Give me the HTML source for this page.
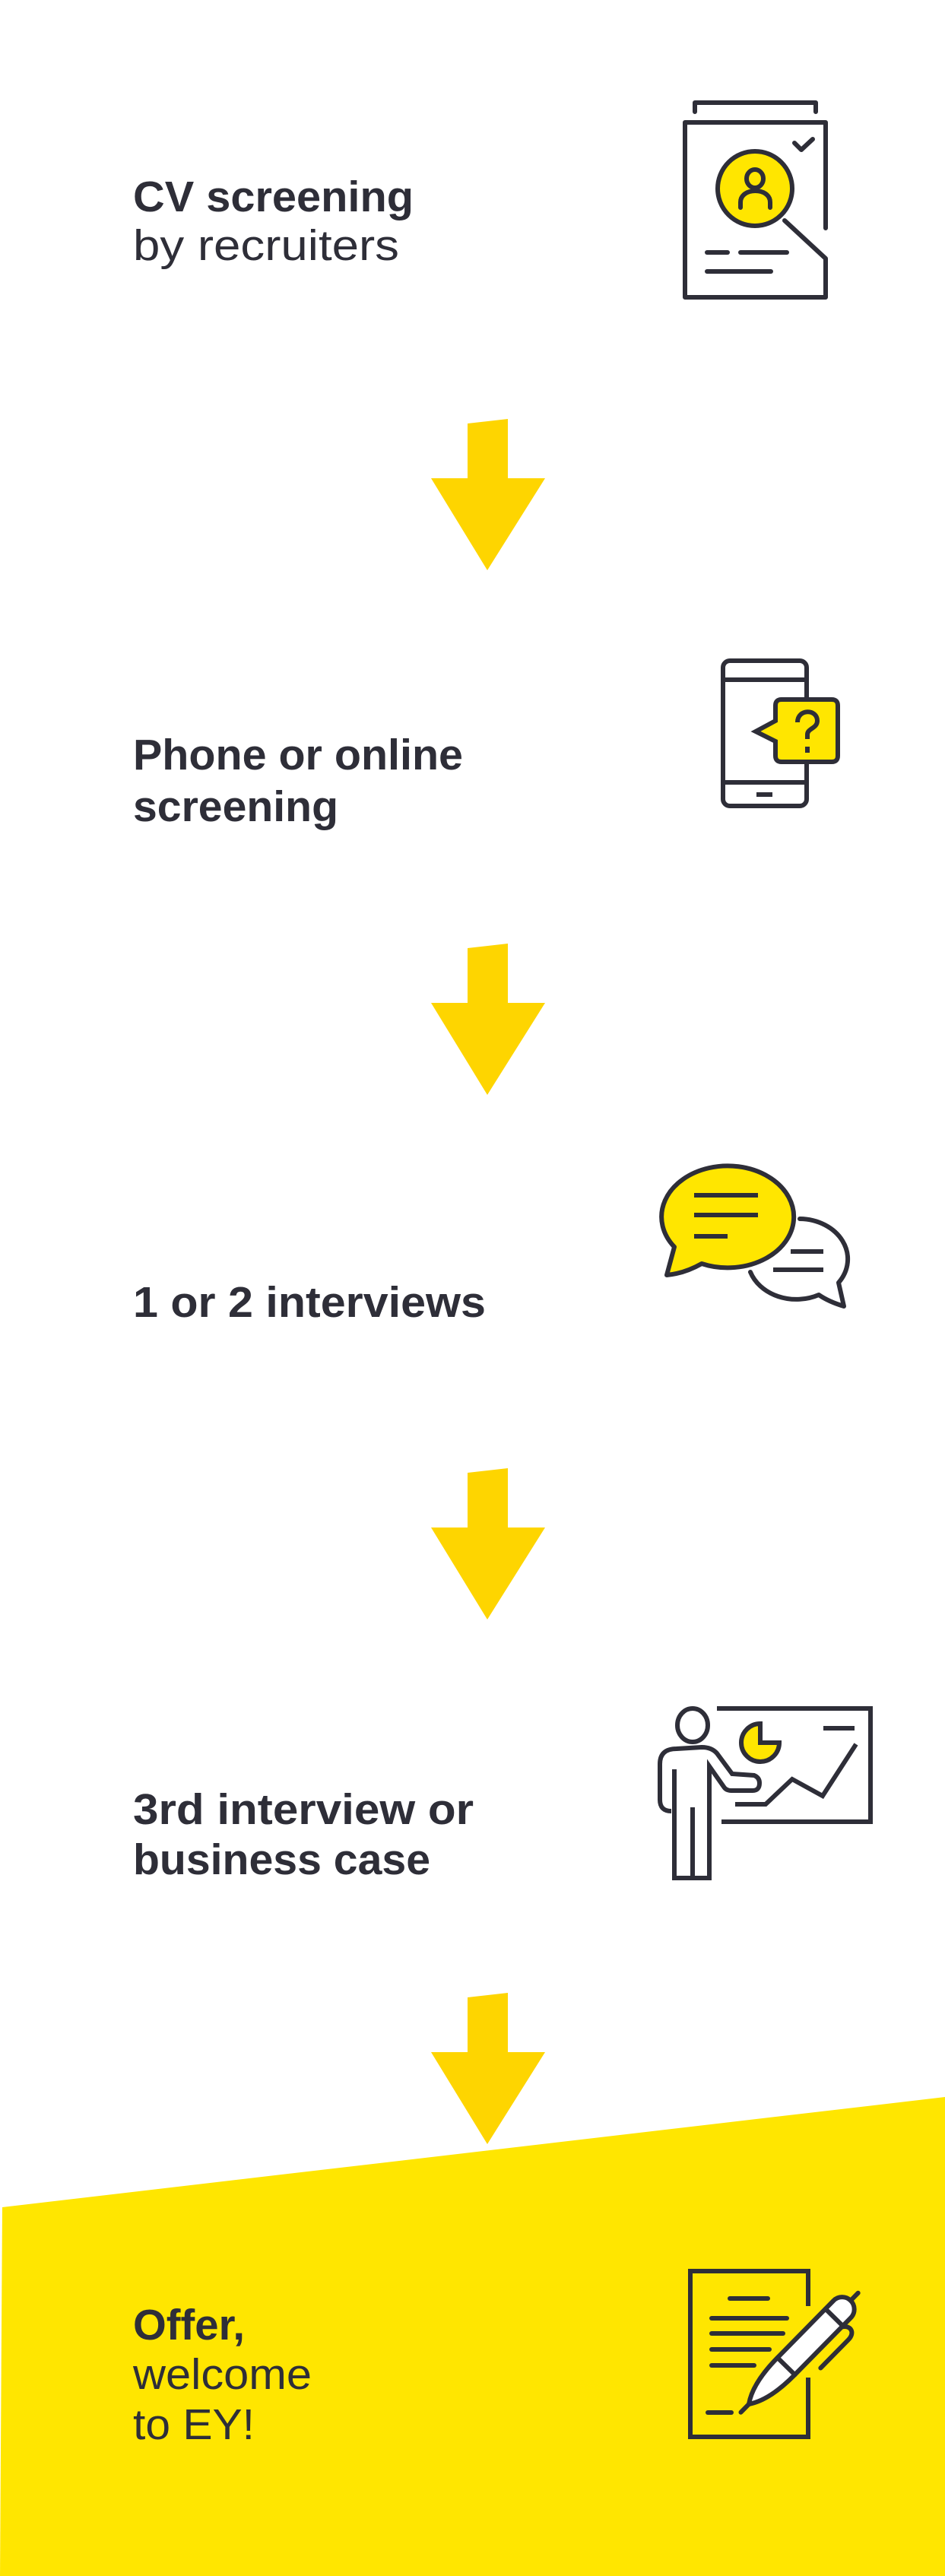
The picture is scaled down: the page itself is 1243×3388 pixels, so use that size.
<!DOCTYPE html>
<html><head><meta charset="utf-8"><style>
html,body{margin:0;padding:0;background:#fff;}
svg{display:block;}
text{font-family:"Liberation Sans",sans-serif;fill:#2e2e38;font-size:57px;}
.b{font-weight:bold;}
</style></head><body>
<svg width="1243" height="3388" viewBox="0 0 1243 3388" xmlns="http://www.w3.org/2000/svg">
<rect width="1243" height="3388" fill="#fff"/>
<polygon points="3,2903 1243,2758 1243,3388 0,3388" fill="#ffe600"/>

<g fill="#fed500">
<polygon points="615,557 668,551 668,629 717,629 641,750 567,629 615,629"/>
<polygon points="615,1247 668,1241 668,1319 717,1319 641,1440 567,1319 615,1319"/>
<polygon points="615,1937 668,1931 668,2009 717,2009 641,2130 567,2009 615,2009"/>
<polygon points="615,2627 668,2621 668,2699 717,2699 641,2820 567,2699 615,2699"/>
</g>

<text class="b" x="175" y="278" textLength="369" lengthAdjust="spacingAndGlyphs">CV screening</text>
<text x="175" y="342" textLength="350" lengthAdjust="spacingAndGlyphs">by recruiters</text>
<text class="b" x="175" y="1012" textLength="434" lengthAdjust="spacingAndGlyphs">Phone or online</text>
<text class="b" x="175" y="1080" textLength="270" lengthAdjust="spacingAndGlyphs">screening</text>
<text class="b" x="175" y="1732" textLength="464" lengthAdjust="spacingAndGlyphs">1 or 2 interviews</text>
<text class="b" x="175" y="2399" textLength="448" lengthAdjust="spacingAndGlyphs">3rd interview or</text>
<text class="b" x="175" y="2465" textLength="391" lengthAdjust="spacingAndGlyphs">business case</text>
<text class="b" x="175" y="3077" textLength="147" lengthAdjust="spacingAndGlyphs">Offer,</text>
<text x="175" y="3142" textLength="235" lengthAdjust="spacingAndGlyphs">welcome</text>
<text x="175" y="3208" textLength="160" lengthAdjust="spacingAndGlyphs">to EY!</text>

<g fill="none" stroke="#2e2e38" stroke-width="6" stroke-linecap="round" stroke-linejoin="round">
<!-- CV icon -->
<polyline points="914,147 914,135 1073,135 1073,147"/>
<polyline points="1086,300 1086,161 901,161 901,391 1086,391 1086,340 1032,290"/>
<circle cx="993" cy="248" r="49" fill="#ffe600"/>
<ellipse cx="993" cy="235" rx="11" ry="12"/>
<path d="M974,273 L974,266 C974,246 1013,246 1013,266 L1013,273"/>
<polyline points="1045,188 1054,197 1069,183"/>
<line x1="930" y1="332" x2="957" y2="332"/><line x1="974" y1="332" x2="1035" y2="332"/>
<line x1="930" y1="357" x2="1014" y2="357"/>

<!-- Phone icon -->
<rect x="951" y="869" width="110" height="191" rx="9" fill="#fff"/>
<line x1="951" y1="894" x2="1061" y2="894"/><line x1="951" y1="1029" x2="1061" y2="1029"/>
<line x1="995" y1="1045" x2="1016" y2="1045" stroke-linecap="butt"/>
<path d="M1028,920 L1094,920 Q1102,920 1102,928 L1102,994 Q1102,1002 1094,1002 L1028,1002 Q1020,1002 1020,994 L1020,975 L994,962 L1020,948 L1020,928 Q1020,920 1028,920 Z" fill="#ffe600" stroke-linejoin="miter"/>
<path d="M1049,950 C1049,932 1075,932 1075,948 C1075,958 1062,958 1062,966 L1062,972" stroke-linecap="butt"/>
<line x1="1062" y1="982" x2="1062" y2="990" stroke-linecap="butt"/>

<!-- Interviews icon -->
<path d="M1052,1603 A64,53 0 0 1 1103,1687 L1110,1718 Q1090,1712 1077,1703 A64,53 0 0 1 987,1673" fill="#fff"/>
<path d="M887,1640 A87,67 0 1 1 923,1662 Q900,1675 877,1677 Z" fill="#ffe600"/>
<g stroke-linecap="butt">
<line x1="913" y1="1572" x2="997" y2="1572"/><line x1="913" y1="1598" x2="997" y2="1598"/><line x1="913" y1="1626" x2="957" y2="1626"/>
<line x1="1040" y1="1646" x2="1083" y2="1646"/><line x1="1017" y1="1670" x2="1083" y2="1670"/>
</g>

<!-- Presenter icon -->
<g stroke-linecap="butt" stroke-linejoin="miter">
<polyline points="943,2247 1145,2247 1145,2396 949,2396"/>
<line x1="1083" y1="2273" x2="1124" y2="2273"/>
<polyline points="967,2373 1007,2373 1042,2340 1082,2362 1126,2294"/>
<path d="M1000,2292 L1000,2267 A25,25 0 1 0 1025,2292 Z" fill="#ffe600"/>
<ellipse cx="911" cy="2269" rx="20" ry="22"/>
<path d="M883,2382 Q868,2382 868,2367 L868,2320 Q868,2300 890,2300 L923,2298 Q936,2298 943,2306 L963,2333 L992,2335 Q999,2338 999,2345 Q999,2355 990,2355 L962,2355 Q955,2355 952,2350 L933,2323 L933,2470 L887,2470 L887,2327"/>
<line x1="911" y1="2377" x2="911" y2="2470"/>
</g>

<!-- Offer icon -->
<polyline points="1063,3033 1063,2987 908,2987 908,3205 1063,3205 1063,3127" stroke-linecap="butt" stroke-linejoin="miter"/>
<line x1="960" y1="3023" x2="1010" y2="3023"/>
<line x1="936" y1="3049" x2="1035" y2="3049"/>
<line x1="936" y1="3069" x2="1030" y2="3069"/>
<line x1="936" y1="3090" x2="1012" y2="3090"/>
<line x1="936" y1="3111" x2="992" y2="3111"/>
<line x1="931" y1="3173" x2="962" y2="3173"/>
<g transform="translate(985,3162) rotate(-45.5)">
<line x1="-15" y1="0" x2="0" y2="0"/>
<line x1="190" y1="0" x2="205" y2="0"/>
<path d="M158,16 C168,22 166,34 152,34 L100,34"/>
<path d="M0,0 C20,-14 50,-16 70,-16 L175,-16 A16,16 0 0 1 175,16 L70,16 C50,16 20,14 0,0 Z" fill="#fff"/>
<line x1="70" y1="-16" x2="70" y2="16"/>
<line x1="160" y1="-16" x2="160" y2="16"/>
</g>
</g>
</svg>
</body></html>
